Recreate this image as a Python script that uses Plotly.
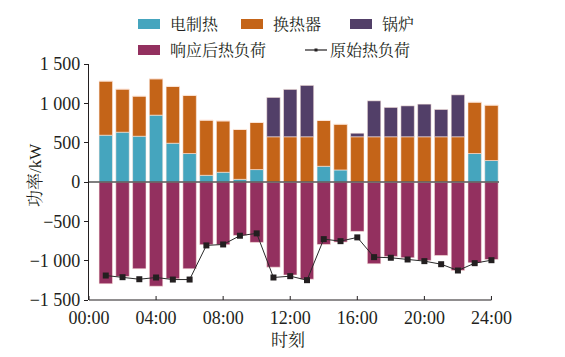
import plotly.graph_objects as go

hours = list(range(1, 25))
electric = [595, 633, 582, 850, 493, 362, 85, 124, 34, 158, 0, 0,
            0, 200, 153, 0, 0, 0, 0, 0, 0, 0, 362, 273]
exchanger = [688, 548, 510, 462, 722, 739, 701, 653, 634, 599, 575, 575,
             575, 582, 582, 575, 575, 575, 575, 575, 575, 575, 653, 704]
boiler = [0, 0, 0, 0, 0, 0, 0, 0, 0, 0, 500, 602,
          653, 0, 0, 45, 457, 373, 393, 415, 347, 533, 0, 0]
load_after = [-1294, -1201, -1103, -1325, -1231, -1103, -797, -797, -679, -768, -1083, -1182,
              -1236, -794, -764, -628, -1040, -946, -963, -997, -934, -1125, -1027, -985]
load_orig = [-1189, -1210, -1236, -1214, -1240, -1240, -806, -794, -683, -653, -1214, -1197,
             -1248, -726, -752, -704, -955, -963, -985, -1006, -1045, -1125, -1032, -994]

x_tickvals = [0, 4, 8, 12, 16, 20, 24]
x_ticktext = ["00:00", "04:00", "08:00", "12:00", "16:00", "20:00", "24:00"]
y_tickvals = [1500, 1000, 500, 0, -500, -1000, -1500]
y_ticktext = ["1 500", "1 000", "500", "0", "\u2212500", "\u22121 000", "\u22121 500"]

names = ["电制热", "换热器", "锅炉", "响应后热负荷", "原始热负荷"]
x_title = "时刻"
y_title = "功率/kW"
C_EL, C_EX, C_BO, C_LD = "#45A5BE", "#C46418", "#523F68", "#93305F"

FONT = "Liberation Serif, Noto Serif CJK SC, Noto Sans CJK SC, serif"
TXT = "#231F20"

W, H = 565, 357
OFF = 8  # page body margin offset
ML, MR, MT, MB = 81, 74, 56, 65
pw, ph = W - ML - MR, H - MT - MB

def px(xs):
    return (xs - OFF - ML) / pw

def py(ys):
    return 1 - (ys - OFF - MT) / ph

edge = dict(color="rgba(255,235,225,0.55)", width=1)
fig = go.Figure()
fig.add_bar(x=hours, y=load_after, name=names[3], marker=dict(color=C_LD, line=edge), width=0.8)
fig.add_bar(x=hours, y=electric, name=names[0], marker=dict(color=C_EL, line=edge), width=0.8)
fig.add_bar(x=hours, y=exchanger, name=names[1], marker=dict(color=C_EX, line=edge), width=0.8)
fig.add_bar(x=hours, y=boiler, name=names[2], marker=dict(color=C_BO, line=edge), width=0.8)
fig.add_scatter(x=hours, y=load_orig, name=names[4], mode="lines+markers",
                line=dict(color="#2a2a2a", width=1),
                marker=dict(symbol="square", size=6, color="#231F20"))

shapes = []
annotations = []
# zero line
shapes.append(dict(type="line", xref="paper", yref="y", x0=0, x1=1, y0=0, y1=0,
                   line=dict(color="#555555", width=1.5), layer="above"))
# bottom axis line from 00:00 to 24:00
shapes.append(dict(type="line", xref="x", yref="paper", x0=0, x1=24, y0=0, y1=0,
                   line=dict(color="#231F20", width=1.2), layer="above"))
# inside ticks on bottom axis
for tv in x_tickvals:
    shapes.append(dict(type="line", xref="x", yref="paper", x0=tv, x1=tv,
                       y0=0, y1=4 / ph, line=dict(color="#231F20", width=1), layer="above"))

# manual legend (screen coordinates)
legend_items = [
    ("bar", C_EL, names[0], 138, 24),
    ("bar", C_EX, names[1], 241, 24),
    ("bar", C_BO, names[2], 350, 24),
    ("bar", C_LD, names[3], 138, 50),
    ("line", "#231F20", names[4], 305, 50),
]
for kind, col, label, x0, yc in legend_items:
    if kind == "bar":
        shapes.append(dict(type="rect", xref="paper", yref="paper",
                           x0=px(x0), x1=px(x0 + 22), y0=py(yc + 5), y1=py(yc - 5),
                           fillcolor=col, line=dict(width=0)))
        tx = x0 + 30
    else:
        shapes.append(dict(type="line", xref="paper", yref="paper",
                           x0=px(x0), x1=px(x0 + 22), y0=py(yc), y1=py(yc),
                           line=dict(color=col, width=1.2)))
        shapes.append(dict(type="rect", xref="paper", yref="paper",
                           x0=px(x0 + 9.5), x1=px(x0 + 12.5), y0=py(yc + 1.5), y1=py(yc - 1.5),
                           fillcolor=col, line=dict(width=0)))
        tx = x0 + 23
    annotations.append(dict(xref="paper", yref="paper", x=px(tx), y=py(yc),
                            xanchor="left", yanchor="middle", text=label, showarrow=False,
                            font=dict(family=FONT, size=16, color=TXT)))

# axis titles
annotations.append(dict(xref="paper", yref="paper", x=px(288), y=py(340),
                        xanchor="center", yanchor="middle", text=x_title, showarrow=False,
                        font=dict(family=FONT, size=17, color=TXT)))
annotations.append(dict(xref="paper", yref="paper", x=px(35), y=py(175),
                        xanchor="center", yanchor="middle", text=y_title, showarrow=False,
                        textangle=-90, font=dict(family=FONT, size=17, color=TXT)))

fig.update_layout(
    width=W, height=H,
    margin=dict(l=ML, r=MR, t=MT, b=MB),
    paper_bgcolor="white", plot_bgcolor="white",
    barmode="relative", bargap=0.2,
    showlegend=False,
    font=dict(family=FONT, size=17, color=TXT),
    shapes=shapes, annotations=annotations,
    xaxis=dict(range=[0, 24.45], tickvals=x_tickvals, ticktext=x_ticktext,
               showgrid=False, zeroline=False, showline=False, ticks="",
               ticklabelstandoff=5,
               tickfont=dict(family=FONT, size=18, color=TXT)),
    yaxis=dict(range=[-1500, 1500], tickvals=y_tickvals, ticktext=y_ticktext,
               showgrid=False, zeroline=False, showline=True, linecolor="#231F20", linewidth=1.2,
               ticks="outside", ticklen=4, tickcolor="#231F20", tickwidth=1,
               tickfont=dict(family=FONT, size=18, color=TXT)),
)

fig.write_html("out.html")
